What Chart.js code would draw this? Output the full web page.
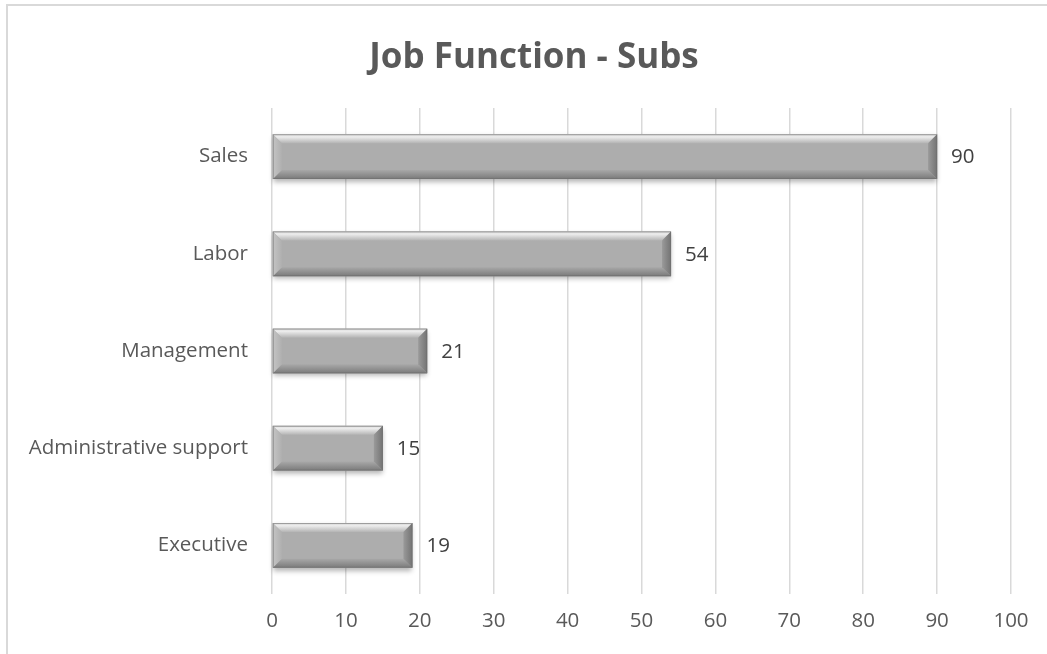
<!DOCTYPE html>
<html>
<head>
<meta charset="utf-8">
<script src="https://cdn.jsdelivr.net/npm/chart.js@4"></script>
<style>
  body { margin: 0; background: #fff; }
  #frame { position: absolute; left: 6px; top: 4px; width: 1100px; height: 700px;
           border-left: 2px solid #d9d9d9; border-top: 2px solid #d9d9d9; }
  #wrap { position: absolute; left: 0; top: 0; width: 1047px; height: 654px; }
</style>
</head>
<body>
<div id="frame"></div>
<div id="wrap"><canvas id="myChart"></canvas></div>
<script>
const categories = ['Sales', 'Labor', 'Management', 'Administrative support', 'Executive']
const subs = [90, 54, 21, 15, 19]
const xTicks = [0, 10, 20, 30, 40, 50, 60, 70, 80, 90, 100]

const FONT = '"Open Sans", sans-serif'

// bevel look + drop shadow for each bar, positions come from the bar elements
const bevelBars = {
    id: 'bevelBars',
    afterLayout(chart) {
        // title sits centred over the whole frame, a bit right of the canvas centre
        chart.titleBlock.left += 57
    },
    beforeDatasetsDraw(chart) {
        const ctx = chart.ctx
        chart.getDatasetMeta(0).data.forEach(bar => {
            const h = bar.height
            ctx.save()
            ctx.shadowColor = 'rgba(0,0,0,0.3)'
            ctx.shadowBlur = 5
            ctx.shadowOffsetY = 3
            ctx.fillStyle = '#adadad'
            ctx.fillRect(bar.base, bar.y - h / 2, bar.x - bar.base, h)
            ctx.restore()
        })
    },
    afterDatasetsDraw(chart) {
        const ctx = chart.ctx
        const b = 9
        chart.getDatasetMeta(0).data.forEach((bar, i) => {
            const L = bar.base, R = bar.x, T = bar.y - bar.height / 2, B = bar.y + bar.height / 2
            const poly = (pts, fill) => {
                ctx.beginPath()
                ctx.moveTo(pts[0][0], pts[0][1])
                pts.slice(1).forEach(p => ctx.lineTo(p[0], p[1]))
                ctx.closePath()
                ctx.fillStyle = fill
                ctx.fill()
            }
            ctx.save()
            let g = ctx.createLinearGradient(0, T, 0, T + b)
            g.addColorStop(0, '#dcdcdc')
            g.addColorStop(0.3, '#ececec')
            g.addColorStop(1, '#b4b4b4')
            poly([[L, T], [R, T], [R - b, T + b], [L + b, T + b]], g)
            g = ctx.createLinearGradient(0, B - b, 0, B)
            g.addColorStop(0, '#a8a8a8')
            g.addColorStop(1, '#7a7a7a')
            poly([[L, B], [R, B], [R - b, B - b], [L + b, B - b]], g)
            g = ctx.createLinearGradient(L, 0, L + b, 0)
            g.addColorStop(0, '#c4c4c4')
            g.addColorStop(1, '#b0b0b0')
            poly([[L, T], [L + b, T + b], [L + b, B - b], [L, B]], g)
            g = ctx.createLinearGradient(R - b, 0, R, 0)
            g.addColorStop(0, '#9a9a9a')
            g.addColorStop(1, '#737373')
            poly([[R, T], [R - b, T + b], [R - b, B - b], [R, B]], g)
            ctx.strokeStyle = 'rgba(110,110,110,0.6)'
            ctx.lineWidth = 1
            ctx.strokeRect(L + 0.5, T + 0.5, R - L - 1, B - T - 1)

            // value label
            ctx.fillStyle = '#404040'
            ctx.font = '20.5px ' + FONT
            ctx.textAlign = 'left'
            ctx.textBaseline = 'middle'
            ctx.fillText(String(subs[i]), R + 14, bar.y + 1)
            ctx.restore()
        })
    }
}

const ctx = document.getElementById('myChart')
const myChart = new Chart(ctx, {
    type: 'bar',
    data: {
        labels: categories,
        datasets: [
            {
                label: 'Subs',
                data: subs,
                backgroundColor: '#adadad',
                borderWidth: 0,
                barPercentage: 0.46,
                categoryPercentage: 1
            }
        ]
    },
    options: {
        indexAxis: 'y',
        responsive: true,
        maintainAspectRatio: false,
        animation: false,
        layout: { padding: { left: 0, right: 36, top: 0, bottom: 0 } },
        scales: {
            x: {
                min: 0,
                max: 100,
                afterBuildTicks: scale => { scale.ticks = xTicks.map(v => ({ value: v })) },
                afterFit: scale => { scale.height = 60 },
                grid: { color: '#d9d9d9', lineWidth: 1.5, drawTicks: false },
                border: { display: false },
                ticks: { color: '#595959', font: { family: FONT, size: 20.5 }, padding: 15 }
            },
            y: {
                afterFit: scale => { scale.width = 272 },
                grid: { display: false, drawTicks: false },
                border: { display: false },
                ticks: { color: '#595959', font: { family: FONT, size: 20.5 }, padding: 24 }
            }
        },
        plugins: {
            legend: { display: false },
            tooltip: { enabled: false },
            title: {
                display: true,
                text: 'Job Function - Subs',
                color: '#595959',
                font: { family: FONT, size: 35, weight: 'bold' },
                padding: { top: 37, bottom: 29 }
            }
        }
    },
    plugins: [bevelBars]
})
</script>
</body>
</html>
